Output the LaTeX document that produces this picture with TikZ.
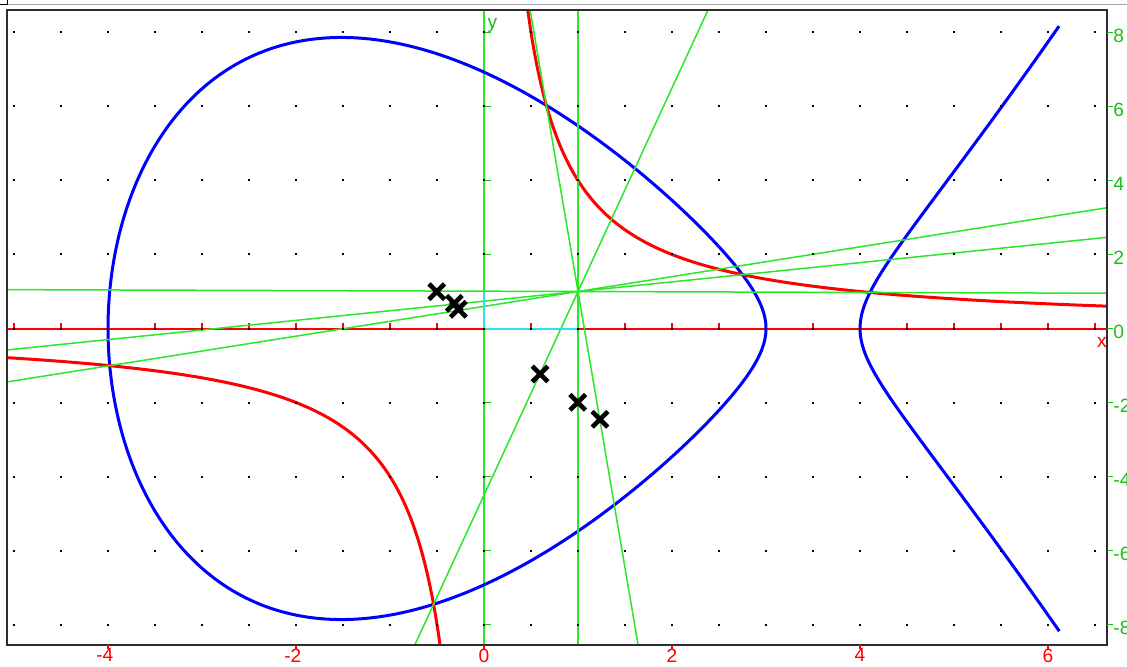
\documentclass[tikz,border=0pt]{standalone}
\usepackage{fontspec}
\setmainfont{Liberation Sans}
\usepackage{tikz}
\usetikzlibrary{calc, shapes.misc}
\usepackage{xcolor}

\definecolor{linegreen}{RGB}{40,232,40}
\definecolor{labelgreen}{RGB}{25,190,25}
\definecolor{axiscyan}{RGB}{40,225,240}
\definecolor{framegray}{RGB}{45,45,45}

\begin{document}
\begin{tikzpicture}[x=47pt, y=18.5pt,
    every node/.style={font=\fontsize{9.6}{11}\selectfont, inner sep=0pt},
    gline/.style={linegreen, line width=0.75pt},
    bcurve/.style={blue, line width=1.5pt},
    rcurve/.style={red, line width=1.5pt},
    xmark/.style={cross out, draw=black, line width=2.3pt, minimum size=5.5pt}]
    \useasboundingbox (-5.149,-9.122) rectangle (6.840,8.878);

    % window edge above the plot
    \draw[gray!70, line width=0.5pt] (-5.074,8.743) -- (6.840,8.743);
    \draw[black, line width=0.5pt] (-5.149,8.743) -- (-5.074,8.743) -- (-5.074,8.878);

    % centre point and the points where curve and hyperbola meet
    \coordinate (C) at (1,1);
    \coordinate (P1) at (-3.9819,-1.0045);
    \coordinate (P2) at (-0.5366,-7.454);
    \coordinate (P3) at (0.6634,6.030);
    \coordinate (P4) at (2.7493,1.4549);
    \coordinate (P5) at (4.1058,0.9742);

    \begin{scope}
    \clip (-5.078,-8.554) rectangle (6.624,8.595);

    % axes
    \draw[red, line width=1pt] (-5.2,0) -- (6.7,0);
    \foreach \t in {-5,-4.5,...,6.5}
        \draw[red, line width=0.6pt] (\t,0) -- ++(0,2.8pt);
    \draw[linegreen, line width=1pt] (0,-9) -- (0,9);
    \foreach \v in {-8,-6,...,8}
        \draw[labelgreen, line width=0.6pt] (0,\v) -- ++(3.5pt,0);

    % cubic y^2 = (x+4)(x-3)(x-4)
    \draw[bcurve] plot[domain=0:360, samples=240, smooth, variable=\t]
        ({-0.5-3.5*cos(\t)}, {3.5*sin(\t)*sqrt(4.5+3.5*cos(\t))});
    \draw[bcurve] plot[domain=-1.456:1.456, samples=80, smooth, variable=\s]
        ({4+\s*\s}, {\s*sqrt((8+\s*\s)*(1+\s*\s))});

    % hyperbola xy = 4
    \draw[rcurve] plot[domain=-5.3:-0.45, samples=120, smooth] (\x, {4/\x});
    \draw[rcurve] plot[domain=0.45:6.9, samples=120, smooth] (\x, {4/\x});

    % lines through C
    \foreach \p in {P1,P2,P3,P4,P5}
        \draw[gline] ($(C)!-4!(\p)$) -- ($(C)!4!(\p)$);
    \draw[gline] (C) ++(0,-12) -- ++(0,24);

    \draw[axiscyan, line width=1pt] (0,1) -- (0,0) -- (1,0);

    % dot grid
    \foreach \x in {-5,-4.5,...,6.5}
        \foreach \y in {-8,-6,...,8}
            \fill (\x,\y) ++(-0.5pt,-0.5pt) rectangle ++(1pt,1pt);

    \node[xmark] (m1) at (-0.503,0.995) {};
    \node[xmark] (m2) at (-0.316,0.681) {};
    \node[xmark] (m3) at (-0.273,0.519) {};
    \node[xmark] (m4) at (0.596,-1.23) {};
    \node[xmark] (m5) at (0.997,-1.995) {};
    \node[xmark] (m6) at (1.234,-2.454) {};
    \end{scope}

    % frame and scales
    \draw[framegray, line width=1pt] (-5.078,-8.554) rectangle (6.624,8.595);
    \foreach \v/\lab in {-4/\llap{-}4, -2/\llap{-}2, 0/0, 2/2, 4/4, 6/6} {
        \draw[red, line width=0.6pt] (\v,-8.554) -- ++(0,-2pt);
        \node[red, anchor=north] (bx\v) at (\v,-8.64) {\lab};
    }
    \foreach \v in {-8,-6,...,8} {
        \draw[labelgreen, line width=0.6pt] (6.624,\v) -- (6.691,\v);
        \node[labelgreen, anchor=west, yshift=-1.5pt] (ry\v) at (6.691,\v) {\v};
    }
    \node[red] (xlab) at (6.574,-0.378) {x};
    \node[labelgreen] (ylab) at (0.09,8.2) {y};
\end{tikzpicture}
\end{document}
